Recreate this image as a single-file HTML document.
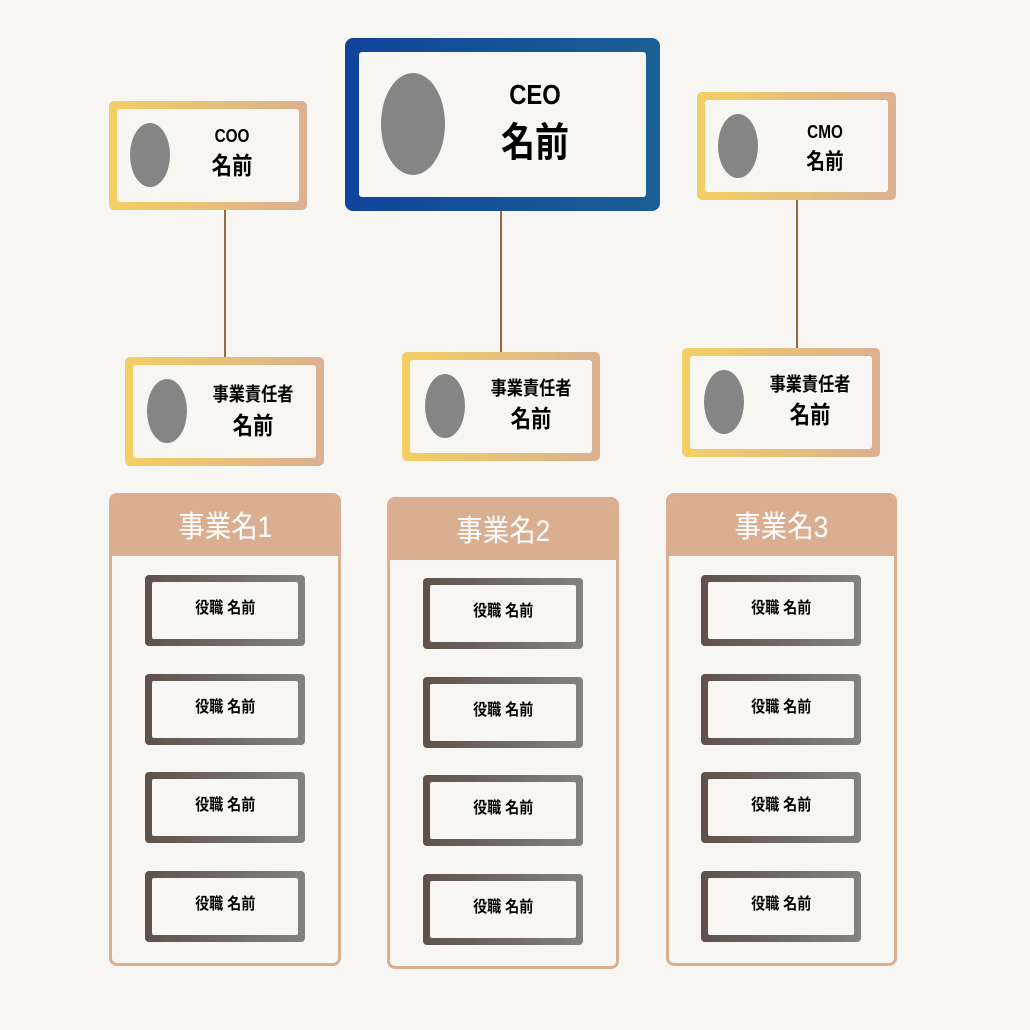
<!DOCTYPE html>
<html><head><meta charset="utf-8"><style>
body{margin:0;width:1030px;height:1030px;background:#f8f6f3;position:relative;overflow:hidden;font-family:"Liberation Sans","Noto Sans CJK JP",sans-serif;}
.a{position:absolute;box-sizing:border-box}
.box{border-radius:5px;padding:8px}
.gold{background:linear-gradient(90deg,#f3cf63,#dbb091)}
.in{background:#f8f6f3;width:100%;height:100%;border-radius:3px}
.el{position:absolute;background:#858585;border-radius:50%}
.t{position:absolute;transform:translate(-50%,-50%) scaleX(0.85);font-weight:bold;color:#000;white-space:nowrap;text-align:center;line-height:1}
.ln{position:absolute;width:2px;background:#9b6a3c}
.panel{border:3px solid #dbae91;border-radius:8px;background:#f8f6f3;overflow:hidden}
.hd{background:#d9ae91;height:60px;color:#fff;font-size:30px;text-align:center;line-height:64px}
.hd span{display:inline-block;transform:scaleX(0.88)}
.item{position:absolute;width:160px;height:71px;border-radius:4px;padding:7px;background:linear-gradient(90deg,#5f5149,#828282);box-sizing:border-box}
.item div{background:#f8f6f3;height:100%;border-radius:2px;font-weight:bold;font-size:16px;text-align:center;padding-top:12px;box-sizing:border-box}
.item div span{display:inline-block;transform:scaleX(0.88)}
</style></head><body>
<div class="ln" style="left:224px;top:210px;height:150px"></div>
<div class="ln" style="left:500px;top:211px;height:143px"></div>
<div class="ln" style="left:796px;top:200px;height:150px"></div>

<div class="a box" style="left:345px;top:38px;width:315px;height:173px;padding:14px;border-radius:8px;background:linear-gradient(90deg,#11449a,#1b6094)"><div class="in"></div></div>
<div class="el" style="left:381px;top:73px;width:64px;height:102px"></div>
<div class="t" style="left:535px;top:95px;font-size:28px">CEO</div>
<div class="t" style="left:535px;top:143px;font-size:40px">名前</div>

<div class="a box gold" style="left:109px;top:101px;width:198px;height:109px"><div class="in"></div></div>
<div class="el" style="left:130px;top:123px;width:40px;height:64px"></div>
<div class="t" style="left:232px;top:136px;font-size:18px">COO</div>
<div class="t" style="left:232px;top:167px;font-size:24px">名前</div>

<div class="a box gold" style="left:697px;top:92px;width:199px;height:108px"><div class="in"></div></div>
<div class="el" style="left:718px;top:114px;width:40px;height:64px"></div>
<div class="t" style="left:825px;top:132px;font-size:18px">CMO</div>
<div class="t" style="left:825px;top:162px;font-size:22px">名前</div>

<div class="a box gold" style="left:125px;top:357px;width:199px;height:109px"><div class="in"></div></div>
<div class="el" style="left:147px;top:379px;width:40px;height:64px"></div>
<div class="t" style="left:253px;top:395px;font-size:19px">事業責任者</div>
<div class="t" style="left:253px;top:427px;font-size:24px">名前</div>

<div class="a box gold" style="left:402px;top:352px;width:198px;height:109px"><div class="in"></div></div>
<div class="el" style="left:425px;top:374px;width:40px;height:64px"></div>
<div class="t" style="left:531px;top:389px;font-size:19px">事業責任者</div>
<div class="t" style="left:531px;top:420px;font-size:24px">名前</div>

<div class="a box gold" style="left:682px;top:348px;width:198px;height:109px"><div class="in"></div></div>
<div class="el" style="left:704px;top:370px;width:40px;height:64px"></div>
<div class="t" style="left:810px;top:385px;font-size:19px">事業責任者</div>
<div class="t" style="left:810px;top:416px;font-size:24px">名前</div>

<div class="a panel" style="left:109px;top:493px;width:232px;height:473px"><div class="hd"><span>事業名1</span></div></div>
<div class="a panel" style="left:387px;top:497px;width:232px;height:472px"><div class="hd"><span>事業名2</span></div></div>
<div class="a panel" style="left:666px;top:493px;width:231px;height:473px"><div class="hd"><span>事業名3</span></div></div>

<div class="item" style="left:145px;top:575px"><div><span>役職 名前</span></div></div>
<div class="item" style="left:145px;top:674px"><div><span>役職 名前</span></div></div>
<div class="item" style="left:145px;top:772px"><div><span>役職 名前</span></div></div>
<div class="item" style="left:145px;top:871px"><div><span>役職 名前</span></div></div>
<div class="item" style="left:423px;top:578px"><div><span>役職 名前</span></div></div>
<div class="item" style="left:423px;top:677px"><div><span>役職 名前</span></div></div>
<div class="item" style="left:423px;top:775px"><div><span>役職 名前</span></div></div>
<div class="item" style="left:423px;top:874px"><div><span>役職 名前</span></div></div>
<div class="item" style="left:701px;top:575px"><div><span>役職 名前</span></div></div>
<div class="item" style="left:701px;top:674px"><div><span>役職 名前</span></div></div>
<div class="item" style="left:701px;top:772px"><div><span>役職 名前</span></div></div>
<div class="item" style="left:701px;top:871px"><div><span>役職 名前</span></div></div>
</body></html>
